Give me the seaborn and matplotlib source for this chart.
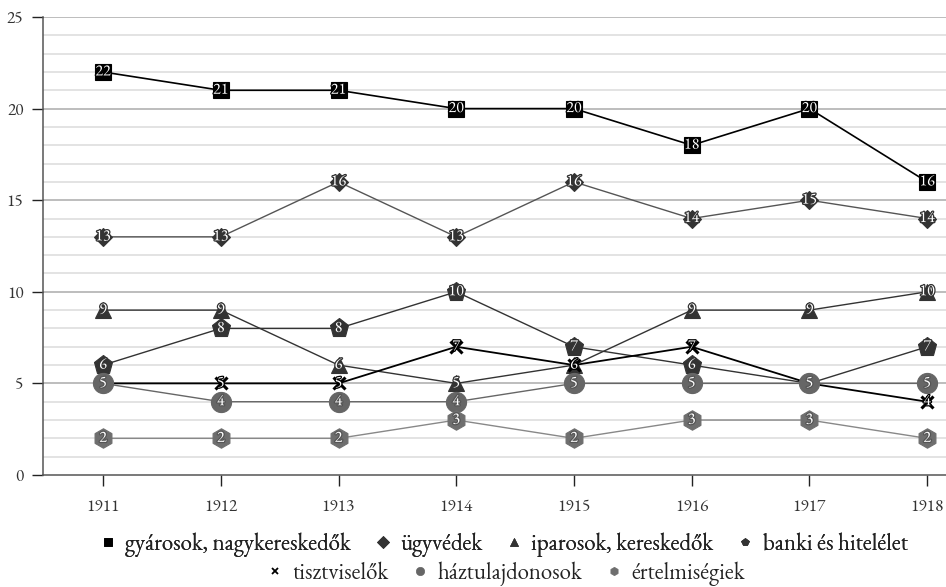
import matplotlib
matplotlib.use('Agg')
import matplotlib.pyplot as plt
import matplotlib.patheffects as pe
from matplotlib.lines import Line2D
from matplotlib import font_manager
import seaborn as sns
import pandas as pd

# data
years = ['1911', '1912', '1913', '1914', '1915', '1916', '1917', '1918']
gyarosok = [22, 21, 21, 20, 20, 18, 20, 16]
ugyvedek = [13, 13, 16, 13, 16, 14, 15, 14]
iparosok = [9, 9, 6, 5, 6, 9, 9, 10]
banki = [6, 8, 8, 10, 7, 6, 5, 7]
tisztviselok = [5, 5, 5, 7, 6, 7, 5, 4]
haztulajdonosok = [5, 4, 4, 4, 5, 5, 5, 5]
ertelmisegiek = [2, 2, 2, 3, 2, 3, 3, 2]

series_names = ['gyárosok, nagykereskedők', 'ügyvédek', 'iparosok, kereskedők',
                'banki és hitelélet', 'tisztviselők', 'háztulajdonosok', 'értelmiségiek']
series_values = [gyarosok, ugyvedek, iparosok, banki, tisztviselok, haztulajdonosok, ertelmisegiek]

# style per series: marker, marker size, marker colour, line colour, line width, label stroke
styles = [
    ('s', 11, '#000000', '#000000', 1.2, '#000000'),
    ('D', 9.5, '#333333', '#555555', 1.0, '#333333'),
    ('^', 11, '#333333', '#333333', 1.0, '#333333'),
    ('p', 14, '#333333', '#333333', 1.0, '#333333'),
    ('x', 9, '#000000', '#000000', 1.3, '#000000'),
    ('o', 14.5, '#666666', '#666666', 1.0, '#555555'),
    ('h', 14, '#6e6e6e', '#888888', 1.0, '#555555'),
]

# garamond-like serif if there is one, else Liberation Serif
installed = {f.name for f in font_manager.fontManager.ttflist}
serif = 'Liberation Serif'
for cand in ['EB Garamond', 'Cormorant Garamond', 'Libre Caslon Text']:
    if cand in installed:
        serif = cand
        break
garamond = serif != 'Liberation Serif'

sns.set_style('white')
plt.rcParams['font.family'] = [serif, 'DejaVu Serif']

fig = plt.figure(figsize=(9.46, 5.87), dpi=100)
ax = fig.add_axes([43 / 946, 112 / 587, 903 / 946, 458 / 587])

# grid lines: every unit light, every 5 a bit darker
for v in range(1, 26):
    ax.axhline(v, color='#bdbdbd' if v % 5 == 0 else '#e3e3e3', lw=1.4, zorder=0)

for i, (name, vals) in enumerate(zip(series_names, series_values)):
    marker, ms, mcol, lcol, lw, stroke = styles[i]
    df = pd.DataFrame({'x': range(len(years)), 'y': vals})
    sns.lineplot(data=df, x='x', y='y', color=lcol, lw=lw, marker=marker, ms=ms,
                 markerfacecolor=mcol, markeredgecolor=mcol,
                 mew=2.2 if marker == 'x' else 0.8, ax=ax, zorder=3 + i)
    for xi, v in enumerate(vals):
        ax.text(xi, v, str(v), ha='center', va='center', fontsize=11.5 if garamond else 9.5,
                color='white', fontfamily=serif, zorder=3.5 + i,
                path_effects=[pe.withStroke(linewidth=1.8, foreground=stroke)])

ax.set_xlim(-0.51, 7.16)
ax.set_ylim(0, 25)
ax.set_xticks(range(len(years)))
ax.set_xticklabels(years)
ax.set_yticks([0, 5, 10, 15, 20, 25])
ax.set_yticklabels(['0', '5', '10', '15', '20', '25'])
ax.set_xlabel('')
ax.set_ylabel('')
ax.tick_params(axis='both', direction='out', length=8, width=1, color='#222222',
               labelsize=12.5 if garamond else 10.5, labelcolor='#333333', bottom=True, left=True)
ax.tick_params(axis='x', pad=9)
ax.tick_params(axis='y', pad=6)
for t in ax.get_xticklabels() + ax.get_yticklabels():
    t.set_fontfamily(serif)

sns.despine(ax=ax, top=True, right=True)
for s in ['left', 'bottom']:
    ax.spines[s].set_color('#555555')
    ax.spines[s].set_linewidth(1.1)

# legend in two centred rows
handles = []
for i, name in enumerate(series_names):
    marker, ms, mcol, lcol, lw, stroke = styles[i]
    handles.append(Line2D([], [], ls='none', marker=marker, color=mcol,
                          ms=6 if marker != 'x' else 4.5, mew=1.3 if marker == 'x' else 0.5,
                          label=name))

leg_font = font_manager.FontProperties(family=serif, size=16.5 if garamond else 14)
leg_kw = dict(frameon=False, prop=leg_font, handlelength=0.6, handletextpad=0.45,
              columnspacing=1.1, labelcolor='#222222', borderpad=0.1)
leg1 = fig.legend(handles=handles[:4], loc='center', bbox_to_anchor=(0.533, 0.072),
                  ncol=4, **leg_kw)
fig.add_artist(leg1)
leg2 = fig.legend(handles=handles[4:], loc='center', bbox_to_anchor=(0.535, 0.023),
                  ncol=3, **leg_kw)
for leg in (leg1, leg2):
    for t in leg.get_texts():
        t.set_fontfamily(serif)

fig.savefig('out.png', dpi=100)
